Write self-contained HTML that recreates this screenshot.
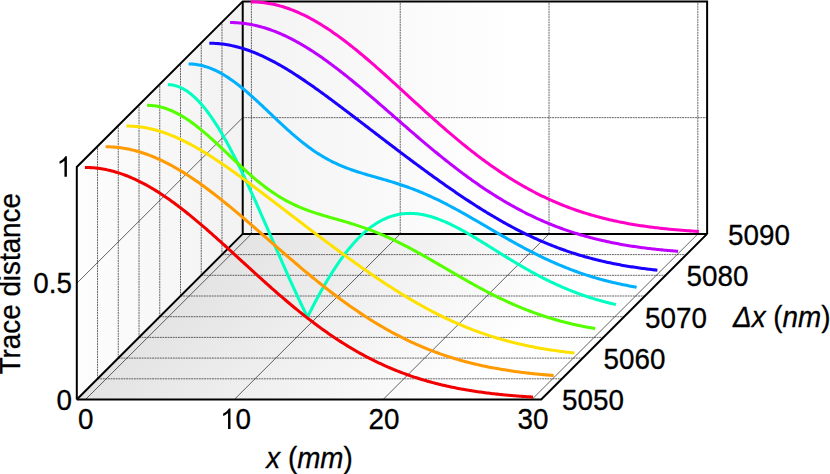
<!DOCTYPE html>
<html><head><meta charset="utf-8"><title>Trace distance</title>
<style>
html,body{margin:0;padding:0;background:#fff;}
body{width:830px;height:474px;position:relative;overflow:hidden;font-family:"Liberation Sans",sans-serif;}
</style></head><body>
<svg width="830" height="474" viewBox="0 0 830 474" style="position:absolute;left:0;top:0">
<defs>
<linearGradient id="gf" x1="0" y1="0" x2="1" y2="0"><stop offset="0" stop-color="#e3e3e3"/><stop offset="0.82" stop-color="#ffffff"/><stop offset="1" stop-color="#ffffff"/></linearGradient>
<linearGradient id="gb" gradientUnits="userSpaceOnUse" x1="242" y1="0" x2="520" y2="0"><stop offset="0" stop-color="#f3f3f3"/><stop offset="1" stop-color="#ffffff"/></linearGradient>
<linearGradient id="gl" x1="0" y1="0" x2="1" y2="0"><stop offset="0" stop-color="#fdfdfd"/><stop offset="1" stop-color="#f2f2f2"/></linearGradient>
</defs>
<polygon points="242.72,233.90 707.12,233.90 707.12,1.40 242.72,1.40" fill="url(#gb)"/>
<g transform="translate(76.80,399.50) skewX(-45.0553)"><rect x="0" y="-165.60" width="464.40" height="165.60" fill="url(#gf)"/></g>
<g transform="translate(76.80,399.50) skewY(-44.9447)"><rect x="0" y="-232.50" width="165.92" height="232.50" fill="url(#gl)"/></g>
<line x1="97.54" y1="378.80" x2="561.94" y2="378.80" stroke="#333" stroke-width="0.75" stroke-dasharray="1.9,0.7"/>
<line x1="97.54" y1="378.80" x2="97.54" y2="146.30" stroke="#333" stroke-width="0.75" stroke-dasharray="1.9,0.7"/>
<line x1="118.28" y1="358.10" x2="582.68" y2="358.10" stroke="#333" stroke-width="0.75" stroke-dasharray="1.9,0.7"/>
<line x1="118.28" y1="358.10" x2="118.28" y2="125.60" stroke="#333" stroke-width="0.75" stroke-dasharray="1.9,0.7"/>
<line x1="139.02" y1="337.40" x2="603.42" y2="337.40" stroke="#333" stroke-width="0.75" stroke-dasharray="1.9,0.7"/>
<line x1="139.02" y1="337.40" x2="139.02" y2="104.90" stroke="#333" stroke-width="0.75" stroke-dasharray="1.9,0.7"/>
<line x1="159.76" y1="316.70" x2="624.16" y2="316.70" stroke="#333" stroke-width="0.75" stroke-dasharray="1.9,0.7"/>
<line x1="159.76" y1="316.70" x2="159.76" y2="84.20" stroke="#333" stroke-width="0.75" stroke-dasharray="1.9,0.7"/>
<line x1="180.50" y1="296.00" x2="644.90" y2="296.00" stroke="#333" stroke-width="0.75" stroke-dasharray="1.9,0.7"/>
<line x1="180.50" y1="296.00" x2="180.50" y2="63.50" stroke="#333" stroke-width="0.75" stroke-dasharray="1.9,0.7"/>
<line x1="201.24" y1="275.30" x2="665.64" y2="275.30" stroke="#333" stroke-width="0.75" stroke-dasharray="1.9,0.7"/>
<line x1="201.24" y1="275.30" x2="201.24" y2="42.80" stroke="#333" stroke-width="0.75" stroke-dasharray="1.9,0.7"/>
<line x1="221.98" y1="254.60" x2="686.38" y2="254.60" stroke="#333" stroke-width="0.75" stroke-dasharray="1.9,0.7"/>
<line x1="221.98" y1="254.60" x2="221.98" y2="22.10" stroke="#333" stroke-width="0.75" stroke-dasharray="1.9,0.7"/>
<line x1="85.50" y1="399.50" x2="251.42" y2="233.90" stroke="#222" stroke-width="0.7"/>
<line x1="251.42" y1="233.90" x2="251.42" y2="1.40" stroke="#333" stroke-width="0.75" stroke-dasharray="1.9,0.7"/>
<line x1="234.30" y1="399.50" x2="400.22" y2="233.90" stroke="#222" stroke-width="0.7"/>
<line x1="400.22" y1="233.90" x2="400.22" y2="1.40" stroke="#333" stroke-width="0.75" stroke-dasharray="1.9,0.7"/>
<line x1="383.10" y1="399.50" x2="549.02" y2="233.90" stroke="#222" stroke-width="0.7"/>
<line x1="549.02" y1="233.90" x2="549.02" y2="1.40" stroke="#333" stroke-width="0.75" stroke-dasharray="1.9,0.7"/>
<line x1="531.90" y1="399.50" x2="697.82" y2="233.90" stroke="#222" stroke-width="0.7"/>
<line x1="697.82" y1="233.90" x2="697.82" y2="1.40" stroke="#333" stroke-width="0.75" stroke-dasharray="1.9,0.7"/>
<line x1="76.80" y1="283.25" x2="242.72" y2="117.65" stroke="#222" stroke-width="0.7"/>
<line x1="242.72" y1="117.65" x2="707.12" y2="117.65" stroke="#333" stroke-width="0.75" stroke-dasharray="1.9,0.7"/>
<polyline points="76.80,399.50 76.80,167.00 242.72,1.40 707.12,1.40 707.12,233.90" stroke="#000" stroke-width="2" fill="none" stroke-linejoin="miter"/>
<polyline points="76.80,399.50 541.20,399.50 707.12,233.90" stroke="#000" stroke-width="2" fill="none" stroke-linejoin="miter"/>
<polyline points="76.80,399.50 242.72,233.90 707.12,233.90" stroke="#000" stroke-width="2" fill="none" stroke-linejoin="miter"/>
<line x1="242.72" y1="233.90" x2="242.72" y2="1.40" stroke="#000" stroke-width="2" fill="none" stroke-linejoin="miter"/>
<path d="M250.82,1.85 L252.31,1.86 L253.81,1.89 L255.30,1.95 L256.79,2.02 L258.29,2.12 L259.78,2.24 L261.27,2.38 L262.77,2.54 L264.26,2.72 L265.75,2.93 L267.25,3.15 L268.74,3.40 L270.24,3.67 L271.73,3.96 L273.22,4.27 L274.72,4.60 L276.21,4.95 L277.70,5.33 L279.20,5.72 L280.69,6.14 L282.18,6.57 L283.68,7.03 L285.17,7.50 L286.66,8.00 L288.16,8.51 L289.65,9.05 L291.14,9.60 L292.64,10.18 L294.13,10.77 L295.62,11.38 L297.12,12.01 L298.61,12.67 L300.11,13.34 L301.60,14.02 L303.09,14.73 L304.59,15.45 L306.08,16.20 L307.57,16.96 L309.07,17.73 L310.56,18.53 L312.05,19.34 L313.55,20.17 L315.04,21.02 L316.53,21.88 L318.03,22.76 L319.52,23.65 L321.01,24.56 L322.51,25.49 L324.00,26.43 L325.50,27.39 L326.99,28.36 L328.48,29.35 L329.98,30.35 L331.47,31.36 L332.96,32.39 L334.46,33.43 L335.95,34.49 L337.44,35.55 L338.94,36.64 L340.43,37.73 L341.92,38.83 L343.42,39.95 L344.91,41.08 L346.40,42.22 L347.90,43.38 L349.39,44.54 L350.88,45.71 L352.38,46.90 L353.87,48.09 L355.37,49.30 L356.86,50.51 L358.35,51.73 L359.85,52.97 L361.34,54.21 L362.83,55.45 L364.33,56.71 L365.82,57.98 L367.31,59.25 L368.81,60.53 L370.30,61.82 L371.79,63.11 L373.29,64.41 L374.78,65.71 L376.27,67.03 L377.77,68.34 L379.26,69.67 L380.75,70.99 L382.25,72.32 L383.74,73.66 L385.24,75.00 L386.73,76.35 L388.22,77.69 L389.72,79.04 L391.21,80.40 L392.70,81.76 L394.20,83.11 L395.69,84.48 L397.18,85.84 L398.68,87.21 L400.17,88.57 L401.66,89.94 L403.16,91.31 L404.65,92.68 L406.14,94.05 L407.64,95.42 L409.13,96.79 L410.62,98.15 L412.12,99.52 L413.61,100.89 L415.11,102.26 L416.60,103.62 L418.09,104.99 L419.59,106.35 L421.08,107.71 L422.57,109.06 L424.07,110.42 L425.56,111.77 L427.05,113.12 L428.55,114.46 L430.04,115.81 L431.53,117.15 L433.03,118.48 L434.52,119.81 L436.01,121.14 L437.51,122.46 L439.00,123.78 L440.49,125.09 L441.99,126.40 L443.48,127.70 L444.98,129.00 L446.47,130.29 L447.96,131.57 L449.46,132.85 L450.95,134.13 L452.44,135.40 L453.94,136.66 L455.43,137.91 L456.92,139.16 L458.42,140.40 L459.91,141.63 L461.40,142.86 L462.90,144.08 L464.39,145.29 L465.88,146.50 L467.38,147.69 L468.87,148.88 L470.36,150.07 L471.86,151.24 L473.35,152.40 L474.85,153.56 L476.34,154.71 L477.83,155.85 L479.33,156.98 L480.82,158.11 L482.31,159.22 L483.81,160.32 L485.30,161.42 L486.79,162.51 L488.29,163.59 L489.78,164.66 L491.27,165.72 L492.77,166.77 L494.26,167.81 L495.75,168.84 L497.25,169.86 L498.74,170.88 L500.23,171.88 L501.73,172.88 L503.22,173.86 L504.72,174.84 L506.21,175.80 L507.70,176.76 L509.20,177.70 L510.69,178.64 L512.18,179.56 L513.68,180.48 L515.17,181.39 L516.66,182.28 L518.16,183.17 L519.65,184.05 L521.14,184.91 L522.64,185.77 L524.13,186.62 L525.62,187.45 L527.12,188.28 L528.61,189.10 L530.10,189.91 L531.60,190.70 L533.09,191.49 L534.58,192.27 L536.08,193.04 L537.57,193.80 L539.07,194.55 L540.56,195.28 L542.05,196.01 L543.55,196.73 L545.04,197.44 L546.53,198.14 L548.03,198.84 L549.52,199.52 L551.01,200.19 L552.51,200.85 L554.00,201.51 L555.49,202.15 L556.99,202.78 L558.48,203.41 L559.97,204.03 L561.47,204.63 L562.96,205.23 L564.45,205.82 L565.95,206.40 L567.44,206.97 L568.94,207.53 L570.43,208.09 L571.92,208.63 L573.42,209.17 L574.91,209.70 L576.40,210.22 L577.90,210.73 L579.39,211.23 L580.88,211.73 L582.38,212.21 L583.87,212.69 L585.36,213.16 L586.86,213.62 L588.35,214.08 L589.84,214.52 L591.34,214.96 L592.83,215.39 L594.32,215.82 L595.82,216.23 L597.31,216.64 L598.81,217.04 L600.30,217.44 L601.79,217.83 L603.29,218.21 L604.78,218.58 L606.27,218.95 L607.77,219.30 L609.26,219.66 L610.75,220.00 L612.25,220.34 L613.74,220.67 L615.23,221.00 L616.73,221.32 L618.22,221.63 L619.71,221.94 L621.21,222.24 L622.70,222.54 L624.19,222.83 L625.69,223.11 L627.18,223.39 L628.68,223.66 L630.17,223.93 L631.66,224.19 L633.16,224.44 L634.65,224.69 L636.14,224.94 L637.64,225.18 L639.13,225.41 L640.62,225.64 L642.12,225.87 L643.61,226.09 L645.10,226.30 L646.60,226.51 L648.09,226.72 L649.58,226.92 L651.08,227.12 L652.57,227.31 L654.06,227.50 L655.56,227.68 L657.05,227.86 L658.55,228.04 L660.04,228.21 L661.53,228.37 L663.03,228.54 L664.52,228.70 L666.01,228.85 L667.51,229.01 L669.00,229.15 L670.49,229.30 L671.99,229.44 L673.48,229.58 L674.97,229.71 L676.47,229.84 L677.96,229.97 L679.45,230.10 L680.95,230.22 L682.44,230.34 L683.93,230.45 L685.43,230.57 L686.92,230.68 L688.42,230.78 L689.91,230.89 L691.40,230.99 L692.90,231.09 L694.39,231.19 L695.88,231.28 L697.38,231.37 L698.87,231.46" fill="none" stroke="#ff00c8" stroke-width="3.05" stroke-linejoin="miter" stroke-linecap="butt"/>
<path d="M230.08,22.55 L231.57,22.56 L233.07,22.59 L234.56,22.64 L236.05,22.71 L237.55,22.80 L239.04,22.91 L240.53,23.04 L242.03,23.20 L243.52,23.37 L245.01,23.56 L246.51,23.77 L248.00,24.00 L249.50,24.25 L250.99,24.52 L252.48,24.81 L253.98,25.12 L255.47,25.45 L256.96,25.80 L258.46,26.16 L259.95,26.55 L261.44,26.96 L262.94,27.38 L264.43,27.83 L265.92,28.29 L267.42,28.77 L268.91,29.27 L270.40,29.79 L271.90,30.32 L273.39,30.88 L274.88,31.45 L276.38,32.04 L277.87,32.65 L279.37,33.27 L280.86,33.91 L282.35,34.57 L283.85,35.25 L285.34,35.94 L286.83,36.65 L288.33,37.38 L289.82,38.12 L291.31,38.88 L292.81,39.65 L294.30,40.44 L295.79,41.24 L297.29,42.06 L298.78,42.90 L300.27,43.75 L301.77,44.61 L303.26,45.49 L304.75,46.38 L306.25,47.29 L307.74,48.21 L309.24,49.14 L310.73,50.09 L312.22,51.05 L313.72,52.02 L315.21,53.01 L316.70,54.01 L318.20,55.02 L319.69,56.04 L321.18,57.07 L322.68,58.12 L324.17,59.17 L325.66,60.24 L327.16,61.32 L328.65,62.40 L330.14,63.50 L331.64,64.61 L333.13,65.72 L334.62,66.85 L336.12,67.99 L337.61,69.13 L339.11,70.28 L340.60,71.45 L342.09,72.62 L343.59,73.79 L345.08,74.98 L346.57,76.17 L348.07,77.37 L349.56,78.58 L351.05,79.79 L352.55,81.01 L354.04,82.24 L355.53,83.47 L357.03,84.71 L358.52,85.95 L360.01,87.20 L361.51,88.45 L363.00,89.71 L364.50,90.97 L365.99,92.24 L367.48,93.51 L368.98,94.79 L370.47,96.07 L371.96,97.35 L373.46,98.63 L374.95,99.92 L376.44,101.21 L377.94,102.50 L379.43,103.80 L380.92,105.09 L382.42,106.39 L383.91,107.69 L385.40,108.99 L386.90,110.29 L388.39,111.60 L389.88,112.90 L391.38,114.20 L392.87,115.51 L394.37,116.81 L395.86,118.12 L397.35,119.42 L398.85,120.72 L400.34,122.02 L401.83,123.33 L403.33,124.63 L404.82,125.92 L406.31,127.22 L407.81,128.52 L409.30,129.81 L410.79,131.10 L412.29,132.39 L413.78,133.67 L415.27,134.96 L416.77,136.24 L418.26,137.51 L419.75,138.79 L421.25,140.06 L422.74,141.32 L424.24,142.59 L425.73,143.85 L427.22,145.10 L428.72,146.35 L430.21,147.60 L431.70,148.84 L433.20,150.08 L434.69,151.31 L436.18,152.53 L437.68,153.76 L439.17,154.97 L440.66,156.18 L442.16,157.39 L443.65,158.59 L445.14,159.78 L446.64,160.97 L448.13,162.15 L449.62,163.33 L451.12,164.50 L452.61,165.66 L454.11,166.82 L455.60,167.97 L457.09,169.11 L458.59,170.25 L460.08,171.38 L461.57,172.50 L463.07,173.62 L464.56,174.72 L466.05,175.82 L467.55,176.92 L469.04,178.00 L470.53,179.08 L472.03,180.15 L473.52,181.21 L475.01,182.26 L476.51,183.31 L478.00,184.35 L479.49,185.38 L480.99,186.40 L482.48,187.41 L483.98,188.42 L485.47,189.42 L486.96,190.40 L488.46,191.38 L489.95,192.36 L491.44,193.32 L492.94,194.27 L494.43,195.22 L495.92,196.15 L497.42,197.08 L498.91,198.00 L500.40,198.91 L501.90,199.81 L503.39,200.71 L504.88,201.59 L506.38,202.47 L507.87,203.33 L509.36,204.19 L510.86,205.04 L512.35,205.87 L513.84,206.70 L515.34,207.53 L516.83,208.34 L518.33,209.14 L519.82,209.93 L521.31,210.72 L522.81,211.49 L524.30,212.26 L525.79,213.02 L527.29,213.77 L528.78,214.51 L530.27,215.24 L531.77,215.96 L533.26,216.67 L534.75,217.37 L536.25,218.07 L537.74,218.76 L539.23,219.43 L540.73,220.10 L542.22,220.76 L543.71,221.41 L545.21,222.05 L546.70,222.69 L548.20,223.31 L549.69,223.93 L551.18,224.53 L552.68,225.13 L554.17,225.72 L555.66,226.30 L557.16,226.88 L558.65,227.44 L560.14,228.00 L561.64,228.55 L563.13,229.09 L564.62,229.62 L566.12,230.14 L567.61,230.66 L569.10,231.16 L570.60,231.66 L572.09,232.16 L573.58,232.64 L575.08,233.12 L576.57,233.58 L578.07,234.05 L579.56,234.50 L581.05,234.94 L582.55,235.38 L584.04,235.81 L585.53,236.24 L587.03,236.65 L588.52,237.06 L590.01,237.47 L591.51,237.86 L593.00,238.25 L594.49,238.63 L595.99,239.00 L597.48,239.37 L598.97,239.73 L600.47,240.09 L601.96,240.44 L603.45,240.78 L604.95,241.11 L606.44,241.44 L607.94,241.76 L609.43,242.08 L610.92,242.39 L612.42,242.69 L613.91,242.99 L615.40,243.29 L616.90,243.57 L618.39,243.85 L619.88,244.13 L621.38,244.40 L622.87,244.66 L624.36,244.92 L625.86,245.18 L627.35,245.42 L628.84,245.67 L630.34,245.91 L631.83,246.14 L633.32,246.37 L634.82,246.59 L636.31,246.81 L637.81,247.02 L639.30,247.23 L640.79,247.44 L642.29,247.64 L643.78,247.83 L645.27,248.03 L646.77,248.21 L648.26,248.40 L649.75,248.58 L651.25,248.75 L652.74,248.92 L654.23,249.09 L655.73,249.25 L657.22,249.41 L658.71,249.57 L660.21,249.72 L661.70,249.87 L663.19,250.01 L664.69,250.15 L666.18,250.29 L667.68,250.42 L669.17,250.56 L670.66,250.68 L672.16,250.81 L673.65,250.93 L675.14,251.05 L676.64,251.17 L678.13,251.28" fill="none" stroke="#c000ff" stroke-width="3.05" stroke-linejoin="miter" stroke-linecap="butt"/>
<path d="M209.34,43.25 L210.83,43.26 L212.33,43.29 L213.82,43.35 L215.31,43.42 L216.81,43.52 L218.30,43.63 L219.79,43.77 L221.29,43.93 L222.78,44.11 L224.28,44.31 L225.77,44.53 L227.26,44.77 L228.76,45.04 L230.25,45.32 L231.74,45.62 L233.24,45.95 L234.73,46.29 L236.22,46.66 L237.72,47.04 L239.21,47.44 L240.70,47.87 L242.20,48.31 L243.69,48.77 L245.18,49.25 L246.68,49.74 L248.17,50.26 L249.66,50.80 L251.16,51.35 L252.65,51.92 L254.15,52.51 L255.64,53.11 L257.13,53.73 L258.63,54.37 L260.12,55.03 L261.61,55.70 L263.11,56.38 L264.60,57.09 L266.09,57.80 L267.59,58.54 L269.08,59.28 L270.57,60.05 L272.07,60.82 L273.56,61.61 L275.05,62.42 L276.55,63.23 L278.04,64.06 L279.53,64.91 L281.03,65.76 L282.52,66.63 L284.01,67.51 L285.51,68.40 L287.00,69.30 L288.50,70.21 L289.99,71.13 L291.48,72.07 L292.98,73.01 L294.47,73.96 L295.96,74.93 L297.46,75.90 L298.95,76.88 L300.44,77.87 L301.94,78.86 L303.43,79.87 L304.92,80.88 L306.42,81.90 L307.91,82.93 L309.40,83.96 L310.90,85.01 L312.39,86.05 L313.88,87.11 L315.38,88.17 L316.87,89.23 L318.37,90.30 L319.86,91.38 L321.35,92.46 L322.85,93.54 L324.34,94.63 L325.83,95.72 L327.33,96.82 L328.82,97.92 L330.31,99.03 L331.81,100.14 L333.30,101.25 L334.79,102.36 L336.29,103.48 L337.78,104.60 L339.27,105.72 L340.77,106.85 L342.26,107.97 L343.75,109.10 L345.25,110.24 L346.74,111.37 L348.24,112.50 L349.73,113.64 L351.22,114.78 L352.72,115.91 L354.21,117.05 L355.70,118.19 L357.20,119.33 L358.69,120.48 L360.18,121.62 L361.68,122.76 L363.17,123.90 L364.66,125.05 L366.16,126.19 L367.65,127.33 L369.14,128.48 L370.64,129.62 L372.13,130.76 L373.62,131.91 L375.12,133.05 L376.61,134.19 L378.11,135.33 L379.60,136.48 L381.09,137.62 L382.59,138.76 L384.08,139.90 L385.57,141.03 L387.07,142.17 L388.56,143.31 L390.05,144.44 L391.55,145.58 L393.04,146.71 L394.53,147.84 L396.03,148.97 L397.52,150.10 L399.01,151.23 L400.51,152.36 L402.00,153.48 L403.50,154.61 L404.99,155.73 L406.48,156.85 L407.98,157.97 L409.47,159.08 L410.96,160.20 L412.46,161.31 L413.95,162.42 L415.44,163.53 L416.94,164.64 L418.43,165.74 L419.92,166.84 L421.42,167.94 L422.91,169.04 L424.40,170.13 L425.90,171.22 L427.39,172.31 L428.88,173.40 L430.38,174.48 L431.87,175.56 L433.37,176.64 L434.86,177.71 L436.35,178.78 L437.85,179.85 L439.34,180.92 L440.83,181.98 L442.33,183.04 L443.82,184.09 L445.31,185.14 L446.81,186.19 L448.30,187.23 L449.79,188.27 L451.29,189.31 L452.78,190.34 L454.27,191.36 L455.77,192.39 L457.26,193.41 L458.75,194.42 L460.25,195.43 L461.74,196.43 L463.24,197.43 L464.73,198.43 L466.22,199.42 L467.72,200.40 L469.21,201.38 L470.70,202.36 L472.20,203.33 L473.69,204.29 L475.18,205.25 L476.68,206.20 L478.17,207.15 L479.66,208.09 L481.16,209.03 L482.65,209.96 L484.14,210.89 L485.64,211.80 L487.13,212.72 L488.62,213.62 L490.12,214.52 L491.61,215.42 L493.10,216.30 L494.60,217.18 L496.09,218.06 L497.59,218.92 L499.08,219.78 L500.57,220.64 L502.07,221.49 L503.56,222.33 L505.05,223.16 L506.55,223.98 L508.04,224.80 L509.53,225.61 L511.03,226.42 L512.52,227.22 L514.01,228.01 L515.51,228.79 L517.00,229.56 L518.49,230.33 L519.99,231.09 L521.48,231.84 L522.97,232.59 L524.47,233.33 L525.96,234.06 L527.46,234.78 L528.95,235.49 L530.44,236.20 L531.94,236.90 L533.43,237.59 L534.92,238.27 L536.42,238.95 L537.91,239.62 L539.40,240.28 L540.90,240.93 L542.39,241.57 L543.88,242.21 L545.38,242.84 L546.87,243.46 L548.36,244.07 L549.86,244.68 L551.35,245.28 L552.85,245.87 L554.34,246.45 L555.83,247.02 L557.33,247.59 L558.82,248.15 L560.31,248.70 L561.81,249.24 L563.30,249.78 L564.79,250.30 L566.29,250.82 L567.78,251.34 L569.27,251.84 L570.77,252.34 L572.26,252.83 L573.75,253.31 L575.25,253.79 L576.74,254.26 L578.23,254.72 L579.73,255.17 L581.22,255.62 L582.71,256.05 L584.21,256.49 L585.70,256.91 L587.20,257.33 L588.69,257.74 L590.18,258.14 L591.68,258.54 L593.17,258.93 L594.66,259.31 L596.16,259.69 L597.65,260.06 L599.14,260.42 L600.64,260.78 L602.13,261.13 L603.62,261.47 L605.12,261.81 L606.61,262.14 L608.10,262.47 L609.60,262.79 L611.09,263.10 L612.59,263.41 L614.08,263.71 L615.57,264.00 L617.07,264.29 L618.56,264.58 L620.05,264.85 L621.55,265.13 L623.04,265.39 L624.53,265.65 L626.03,265.91 L627.52,266.16 L629.01,266.41 L630.51,266.65 L632.00,266.88 L633.49,267.11 L634.99,267.34 L636.48,267.56 L637.97,267.78 L639.47,267.99 L640.96,268.19 L642.45,268.40 L643.95,268.59 L645.44,268.79 L646.94,268.98 L648.43,269.16 L649.92,269.34 L651.42,269.52 L652.91,269.69 L654.40,269.86 L655.90,270.02 L657.39,270.18" fill="none" stroke="#1a00ff" stroke-width="3.05" stroke-linejoin="miter" stroke-linecap="butt"/>
<path d="M188.60,63.95 L190.09,63.97 L191.59,64.03 L193.08,64.13 L194.57,64.28 L196.07,64.46 L197.56,64.69 L199.05,64.95 L200.55,65.25 L202.04,65.60 L203.53,65.98 L205.03,66.41 L206.52,66.87 L208.02,67.37 L209.51,67.91 L211.00,68.49 L212.50,69.10 L213.99,69.75 L215.48,70.44 L216.98,71.16 L218.47,71.92 L219.96,72.71 L221.46,73.54 L222.95,74.39 L224.44,75.28 L225.94,76.21 L227.43,77.16 L228.92,78.14 L230.42,79.15 L231.91,80.19 L233.41,81.26 L234.90,82.36 L236.39,83.48 L237.89,84.62 L239.38,85.79 L240.87,86.98 L242.37,88.19 L243.86,89.43 L245.35,90.68 L246.85,91.95 L248.34,93.24 L249.83,94.55 L251.33,95.87 L252.82,97.21 L254.31,98.56 L255.81,99.92 L257.30,101.29 L258.79,102.67 L260.29,104.07 L261.78,105.46 L263.27,106.87 L264.77,108.28 L266.26,109.70 L267.76,111.11 L269.25,112.53 L270.74,113.95 L272.24,115.37 L273.73,116.79 L275.22,118.21 L276.72,119.62 L278.21,121.03 L279.70,122.43 L281.20,123.82 L282.69,125.21 L284.18,126.58 L285.68,127.95 L287.17,129.31 L288.66,130.65 L290.16,131.98 L291.65,133.30 L293.14,134.60 L294.64,135.89 L296.13,137.16 L297.63,138.41 L299.12,139.65 L300.61,140.87 L302.11,142.07 L303.60,143.25 L305.09,144.41 L306.59,145.55 L308.08,146.66 L309.57,147.76 L311.07,148.83 L312.56,149.89 L314.05,150.92 L315.55,151.92 L317.04,152.91 L318.53,153.87 L320.03,154.81 L321.52,155.73 L323.01,156.62 L324.51,157.49 L326.00,158.34 L327.50,159.17 L328.99,159.97 L330.48,160.76 L331.98,161.52 L333.47,162.26 L334.96,162.98 L336.46,163.68 L337.95,164.36 L339.44,165.02 L340.94,165.66 L342.43,166.29 L343.92,166.90 L345.42,167.49 L346.91,168.07 L348.40,168.63 L349.90,169.18 L351.39,169.71 L352.88,170.23 L354.38,170.74 L355.87,171.24 L357.37,171.73 L358.86,172.20 L360.35,172.67 L361.85,173.13 L363.34,173.59 L364.83,174.04 L366.33,174.48 L367.82,174.92 L369.31,175.35 L370.81,175.78 L372.30,176.21 L373.79,176.63 L375.29,177.06 L376.78,177.48 L378.27,177.91 L379.77,178.33 L381.26,178.76 L382.75,179.19 L384.25,179.62 L385.74,180.05 L387.24,180.49 L388.73,180.93 L390.22,181.38 L391.72,181.84 L393.21,182.29 L394.70,182.76 L396.20,183.23 L397.69,183.71 L399.18,184.19 L400.68,184.69 L402.17,185.19 L403.66,185.70 L405.16,186.22 L406.65,186.74 L408.14,187.28 L409.64,187.82 L411.13,188.37 L412.62,188.94 L414.12,189.51 L415.61,190.09 L417.11,190.68 L418.60,191.28 L420.09,191.89 L421.59,192.51 L423.08,193.14 L424.57,193.78 L426.07,194.43 L427.56,195.09 L429.05,195.75 L430.55,196.43 L432.04,197.12 L433.53,197.81 L435.03,198.51 L436.52,199.23 L438.01,199.95 L439.51,200.68 L441.00,201.42 L442.50,202.16 L443.99,202.92 L445.48,203.68 L446.98,204.45 L448.47,205.23 L449.96,206.01 L451.46,206.80 L452.95,207.60 L454.44,208.41 L455.94,209.22 L457.43,210.03 L458.92,210.85 L460.42,211.68 L461.91,212.51 L463.40,213.35 L464.90,214.19 L466.39,215.04 L467.88,215.89 L469.38,216.74 L470.87,217.60 L472.36,218.45 L473.86,219.32 L475.35,220.18 L476.85,221.05 L478.34,221.92 L479.83,222.79 L481.33,223.66 L482.82,224.53 L484.31,225.40 L485.81,226.28 L487.30,227.15 L488.79,228.02 L490.29,228.90 L491.78,229.77 L493.27,230.64 L494.77,231.51 L496.26,232.38 L497.75,233.24 L499.25,234.11 L500.74,234.97 L502.23,235.83 L503.73,236.69 L505.22,237.54 L506.72,238.40 L508.21,239.24 L509.70,240.09 L511.20,240.93 L512.69,241.77 L514.18,242.60 L515.68,243.43 L517.17,244.25 L518.66,245.07 L520.16,245.88 L521.65,246.69 L523.14,247.49 L524.64,248.29 L526.13,249.08 L527.62,249.86 L529.12,250.64 L530.61,251.42 L532.11,252.18 L533.60,252.95 L535.09,253.70 L536.59,254.45 L538.08,255.19 L539.57,255.92 L541.07,256.65 L542.56,257.37 L544.05,258.08 L545.55,258.78 L547.04,259.48 L548.53,260.17 L550.03,260.85 L551.52,261.53 L553.01,262.20 L554.51,262.86 L556.00,263.51 L557.49,264.15 L558.99,264.79 L560.48,265.41 L561.97,266.03 L563.47,266.65 L564.96,267.25 L566.46,267.85 L567.95,268.43 L569.44,269.01 L570.94,269.59 L572.43,270.15 L573.92,270.71 L575.42,271.25 L576.91,271.79 L578.40,272.32 L579.90,272.85 L581.39,273.36 L582.88,273.87 L584.38,274.37 L585.87,274.86 L587.36,275.35 L588.86,275.82 L590.35,276.29 L591.85,276.75 L593.34,277.20 L594.83,277.65 L596.33,278.09 L597.82,278.51 L599.31,278.94 L600.81,279.35 L602.30,279.76 L603.79,280.16 L605.29,280.55 L606.78,280.94 L608.27,281.31 L609.77,281.68 L611.26,282.05 L612.75,282.41 L614.25,282.76 L615.74,283.10 L617.23,283.43 L618.73,283.76 L620.22,284.09 L621.71,284.40 L623.21,284.71 L624.70,285.02 L626.20,285.31 L627.69,285.61 L629.18,285.89 L630.68,286.17 L632.17,286.44 L633.66,286.71 L635.16,286.97 L636.65,287.23" fill="none" stroke="#00b0ff" stroke-width="3.05" stroke-linejoin="miter" stroke-linecap="butt"/>
<path d="M167.86,84.65 L169.35,84.69 L170.85,84.81 L172.34,85.01 L173.83,85.29 L175.33,85.65 L176.82,86.08 L178.31,86.60 L179.81,87.20 L181.30,87.87 L182.80,88.62 L184.29,89.45 L185.78,90.36 L187.28,91.34 L188.77,92.40 L190.26,93.53 L191.76,94.74 L193.25,96.02 L194.74,97.38 L196.24,98.81 L197.73,100.31 L199.22,101.88 L200.72,103.52 L202.21,105.23 L203.70,107.01 L205.20,108.85 L206.69,110.76 L208.18,112.74 L209.68,114.78 L211.17,116.88 L212.67,119.05 L214.16,121.28 L215.65,123.56 L217.15,125.90 L218.64,128.30 L220.13,130.76 L221.63,133.27 L223.12,135.83 L224.61,138.44 L226.11,141.10 L227.60,143.81 L229.09,146.57 L230.59,149.37 L232.08,152.22 L233.57,155.11 L235.07,158.04 L236.56,161.01 L238.05,164.02 L239.55,167.06 L241.04,170.14 L242.53,173.26 L244.03,176.40 L245.52,179.57 L247.02,182.77 L248.51,186.00 L250.00,189.26 L251.50,192.53 L252.99,195.83 L254.48,199.15 L255.98,202.49 L257.47,205.84 L258.96,209.21 L260.46,212.59 L261.95,215.99 L263.44,219.39 L264.94,222.80 L266.43,226.22 L267.92,229.65 L269.42,233.08 L270.91,236.51 L272.40,239.94 L273.90,243.37 L275.39,246.80 L276.89,250.22 L278.38,253.64 L279.87,257.05 L281.37,260.46 L282.86,263.85 L284.35,267.23 L285.85,270.60 L287.34,273.95 L288.83,277.29 L290.33,280.61 L291.82,283.91 L293.31,287.20 L294.81,290.46 L296.30,293.70 L297.79,296.91 L299.29,300.10 L300.78,303.27 L302.27,306.40 L303.77,309.51 L305.26,312.59 L306.76,315.64 L307.50,317.15 L308.25,315.65 L309.74,312.66 L311.24,309.71 L312.73,306.80 L314.22,303.92 L315.72,301.08 L317.21,298.27 L318.70,295.50 L320.20,292.78 L321.69,290.09 L323.18,287.44 L324.68,284.83 L326.17,282.27 L327.66,279.75 L329.16,277.27 L330.65,274.84 L332.14,272.45 L333.64,270.11 L335.13,267.81 L336.63,265.56 L338.12,263.35 L339.61,261.19 L341.11,259.08 L342.60,257.02 L344.09,255.00 L345.59,253.04 L347.08,251.12 L348.57,249.25 L350.07,247.42 L351.56,245.65 L353.05,243.93 L354.55,242.25 L356.04,240.63 L357.53,239.05 L359.03,237.53 L360.52,236.05 L362.01,234.62 L363.51,233.24 L365.00,231.92 L366.50,230.64 L367.99,229.40 L369.48,228.22 L370.98,227.09 L372.47,226.00 L373.96,224.96 L375.46,223.97 L376.95,223.03 L378.44,222.13 L379.94,221.28 L381.43,220.48 L382.92,219.72 L384.42,219.01 L385.91,218.34 L387.40,217.72 L388.90,217.14 L390.39,216.61 L391.88,216.11 L393.38,215.67 L394.87,215.26 L396.37,214.90 L397.86,214.57 L399.35,214.29 L400.85,214.05 L402.34,213.84 L403.83,213.68 L405.33,213.55 L406.82,213.46 L408.31,213.41 L409.81,213.39 L411.30,213.41 L412.79,213.47 L414.29,213.56 L415.78,213.68 L417.27,213.83 L418.77,214.02 L420.26,214.24 L421.75,214.49 L423.25,214.77 L424.74,215.08 L426.24,215.42 L427.73,215.78 L429.22,216.18 L430.72,216.59 L432.21,217.04 L433.70,217.51 L435.20,218.00 L436.69,218.52 L438.18,219.06 L439.68,219.63 L441.17,220.21 L442.66,220.82 L444.16,221.44 L445.65,222.09 L447.14,222.75 L448.64,223.44 L450.13,224.13 L451.62,224.85 L453.12,225.58 L454.61,226.33 L456.11,227.09 L457.60,227.87 L459.09,228.66 L460.59,229.46 L462.08,230.27 L463.57,231.10 L465.07,231.93 L466.56,232.78 L468.05,233.63 L469.55,234.50 L471.04,235.37 L472.53,236.25 L474.03,237.14 L475.52,238.03 L477.01,238.93 L478.51,239.83 L480.00,240.74 L481.49,241.66 L482.99,242.58 L484.48,243.50 L485.98,244.42 L487.47,245.35 L488.96,246.28 L490.46,247.21 L491.95,248.14 L493.44,249.08 L494.94,250.01 L496.43,250.94 L497.92,251.87 L499.42,252.80 L500.91,253.73 L502.40,254.66 L503.90,255.58 L505.39,256.50 L506.88,257.42 L508.38,258.34 L509.87,259.25 L511.36,260.16 L512.86,261.06 L514.35,261.96 L515.85,262.85 L517.34,263.74 L518.83,264.62 L520.33,265.50 L521.82,266.37 L523.31,267.24 L524.81,268.10 L526.30,268.95 L527.79,269.80 L529.29,270.64 L530.78,271.47 L532.27,272.30 L533.77,273.11 L535.26,273.92 L536.75,274.72 L538.25,275.52 L539.74,276.30 L541.24,277.08 L542.73,277.85 L544.22,278.61 L545.72,279.36 L547.21,280.11 L548.70,280.84 L550.20,281.57 L551.69,282.28 L553.18,282.99 L554.68,283.69 L556.17,284.38 L557.66,285.06 L559.16,285.73 L560.65,286.39 L562.14,287.05 L563.64,287.69 L565.13,288.32 L566.62,288.95 L568.12,289.56 L569.61,290.17 L571.11,290.77 L572.60,291.36 L574.09,291.94 L575.59,292.51 L577.08,293.07 L578.57,293.62 L580.07,294.16 L581.56,294.69 L583.05,295.22 L584.55,295.73 L586.04,296.24 L587.53,296.73 L589.03,297.22 L590.52,297.70 L592.01,298.17 L593.51,298.64 L595.00,299.09 L596.49,299.53 L597.99,299.97 L599.48,300.40 L600.98,300.82 L602.47,301.23 L603.96,301.64 L605.46,302.03 L606.95,302.42 L608.44,302.80 L609.94,303.17 L611.43,303.54 L612.92,303.89 L614.42,304.24 L615.91,304.58" fill="none" stroke="#00ffc0" stroke-width="3.05" stroke-linejoin="miter" stroke-linecap="butt"/>
<path d="M147.12,105.35 L148.61,105.37 L150.11,105.43 L151.60,105.53 L153.09,105.68 L154.59,105.86 L156.08,106.09 L157.57,106.35 L159.07,106.65 L160.56,107.00 L162.06,107.38 L163.55,107.81 L165.04,108.27 L166.54,108.77 L168.03,109.31 L169.52,109.89 L171.02,110.50 L172.51,111.15 L174.00,111.84 L175.50,112.56 L176.99,113.32 L178.48,114.11 L179.98,114.94 L181.47,115.79 L182.96,116.68 L184.46,117.61 L185.95,118.56 L187.44,119.54 L188.94,120.55 L190.43,121.59 L191.93,122.66 L193.42,123.76 L194.91,124.88 L196.41,126.02 L197.90,127.19 L199.39,128.38 L200.89,129.59 L202.38,130.83 L203.87,132.08 L205.37,133.35 L206.86,134.64 L208.35,135.95 L209.85,137.27 L211.34,138.61 L212.83,139.96 L214.33,141.32 L215.82,142.69 L217.31,144.07 L218.81,145.47 L220.30,146.86 L221.79,148.27 L223.29,149.68 L224.78,151.10 L226.28,152.51 L227.77,153.93 L229.26,155.35 L230.76,156.77 L232.25,158.19 L233.74,159.61 L235.24,161.02 L236.73,162.43 L238.22,163.83 L239.72,165.22 L241.21,166.61 L242.70,167.98 L244.20,169.35 L245.69,170.71 L247.18,172.05 L248.68,173.38 L250.17,174.70 L251.66,176.00 L253.16,177.29 L254.65,178.56 L256.15,179.81 L257.64,181.05 L259.13,182.27 L260.63,183.47 L262.12,184.65 L263.61,185.81 L265.11,186.95 L266.60,188.06 L268.09,189.16 L269.59,190.23 L271.08,191.29 L272.57,192.32 L274.07,193.32 L275.56,194.31 L277.05,195.27 L278.55,196.21 L280.04,197.13 L281.53,198.02 L283.03,198.89 L284.52,199.74 L286.02,200.57 L287.51,201.37 L289.00,202.16 L290.50,202.92 L291.99,203.66 L293.48,204.38 L294.98,205.08 L296.47,205.76 L297.96,206.42 L299.46,207.06 L300.95,207.69 L302.44,208.30 L303.94,208.89 L305.43,209.47 L306.92,210.03 L308.42,210.58 L309.91,211.11 L311.40,211.63 L312.90,212.14 L314.39,212.64 L315.89,213.13 L317.38,213.60 L318.87,214.07 L320.37,214.53 L321.86,214.99 L323.35,215.44 L324.85,215.88 L326.34,216.32 L327.83,216.75 L329.33,217.18 L330.82,217.61 L332.31,218.03 L333.81,218.46 L335.30,218.88 L336.79,219.31 L338.29,219.73 L339.78,220.16 L341.27,220.59 L342.77,221.02 L344.26,221.45 L345.76,221.89 L347.25,222.33 L348.74,222.78 L350.24,223.24 L351.73,223.69 L353.22,224.16 L354.72,224.63 L356.21,225.11 L357.70,225.59 L359.20,226.09 L360.69,226.59 L362.18,227.10 L363.68,227.62 L365.17,228.14 L366.66,228.68 L368.16,229.22 L369.65,229.77 L371.14,230.34 L372.64,230.91 L374.13,231.49 L375.63,232.08 L377.12,232.68 L378.61,233.29 L380.11,233.91 L381.60,234.54 L383.09,235.18 L384.59,235.83 L386.08,236.49 L387.57,237.15 L389.07,237.83 L390.56,238.52 L392.05,239.21 L393.55,239.91 L395.04,240.63 L396.53,241.35 L398.03,242.08 L399.52,242.82 L401.01,243.56 L402.51,244.32 L404.00,245.08 L405.50,245.85 L406.99,246.63 L408.48,247.41 L409.98,248.20 L411.47,249.00 L412.96,249.81 L414.46,250.62 L415.95,251.43 L417.44,252.25 L418.94,253.08 L420.43,253.91 L421.92,254.75 L423.42,255.59 L424.91,256.44 L426.40,257.29 L427.90,258.14 L429.39,259.00 L430.88,259.85 L432.38,260.72 L433.87,261.58 L435.37,262.45 L436.86,263.32 L438.35,264.19 L439.85,265.06 L441.34,265.93 L442.83,266.80 L444.33,267.68 L445.82,268.55 L447.31,269.42 L448.81,270.30 L450.30,271.17 L451.79,272.04 L453.29,272.91 L454.78,273.78 L456.27,274.64 L457.77,275.51 L459.26,276.37 L460.75,277.23 L462.25,278.09 L463.74,278.94 L465.24,279.80 L466.73,280.64 L468.22,281.49 L469.72,282.33 L471.21,283.17 L472.70,284.00 L474.20,284.83 L475.69,285.65 L477.18,286.47 L478.68,287.28 L480.17,288.09 L481.66,288.89 L483.16,289.69 L484.65,290.48 L486.14,291.26 L487.64,292.04 L489.13,292.82 L490.62,293.58 L492.12,294.35 L493.61,295.10 L495.11,295.85 L496.60,296.59 L498.09,297.32 L499.59,298.05 L501.08,298.77 L502.57,299.48 L504.07,300.18 L505.56,300.88 L507.05,301.57 L508.55,302.25 L510.04,302.93 L511.53,303.60 L513.03,304.26 L514.52,304.91 L516.01,305.55 L517.51,306.19 L519.00,306.81 L520.50,307.43 L521.99,308.05 L523.48,308.65 L524.98,309.25 L526.47,309.83 L527.96,310.41 L529.46,310.99 L530.95,311.55 L532.44,312.11 L533.94,312.65 L535.43,313.19 L536.92,313.72 L538.42,314.25 L539.91,314.76 L541.40,315.27 L542.90,315.77 L544.39,316.26 L545.88,316.75 L547.38,317.22 L548.87,317.69 L550.37,318.15 L551.86,318.60 L553.35,319.05 L554.85,319.49 L556.34,319.91 L557.83,320.34 L559.33,320.75 L560.82,321.16 L562.31,321.56 L563.81,321.95 L565.30,322.34 L566.79,322.71 L568.29,323.08 L569.78,323.45 L571.27,323.81 L572.77,324.16 L574.26,324.50 L575.75,324.83 L577.25,325.16 L578.74,325.49 L580.24,325.80 L581.73,326.11 L583.22,326.42 L584.72,326.71 L586.21,327.01 L587.70,327.29 L589.20,327.57 L590.69,327.84 L592.18,328.11 L593.68,328.37 L595.17,328.63" fill="none" stroke="#55ff00" stroke-width="3.05" stroke-linejoin="miter" stroke-linecap="butt"/>
<path d="M126.38,126.05 L127.87,126.06 L129.37,126.09 L130.86,126.15 L132.35,126.22 L133.85,126.32 L135.34,126.43 L136.83,126.57 L138.33,126.73 L139.82,126.91 L141.31,127.11 L142.81,127.33 L144.30,127.57 L145.80,127.84 L147.29,128.12 L148.78,128.42 L150.28,128.75 L151.77,129.09 L153.26,129.46 L154.76,129.84 L156.25,130.24 L157.74,130.67 L159.24,131.11 L160.73,131.57 L162.22,132.05 L163.72,132.54 L165.21,133.06 L166.70,133.60 L168.20,134.15 L169.69,134.72 L171.19,135.31 L172.68,135.91 L174.17,136.53 L175.67,137.17 L177.16,137.83 L178.65,138.50 L180.15,139.18 L181.64,139.89 L183.13,140.60 L184.63,141.34 L186.12,142.08 L187.61,142.85 L189.11,143.62 L190.60,144.41 L192.09,145.22 L193.59,146.03 L195.08,146.86 L196.57,147.71 L198.07,148.56 L199.56,149.43 L201.05,150.31 L202.55,151.20 L204.04,152.10 L205.54,153.01 L207.03,153.93 L208.52,154.87 L210.02,155.81 L211.51,156.76 L213.00,157.73 L214.50,158.70 L215.99,159.68 L217.48,160.67 L218.98,161.66 L220.47,162.67 L221.96,163.68 L223.46,164.70 L224.95,165.73 L226.44,166.76 L227.94,167.81 L229.43,168.85 L230.92,169.91 L232.42,170.97 L233.91,172.03 L235.41,173.10 L236.90,174.18 L238.39,175.26 L239.89,176.34 L241.38,177.43 L242.87,178.52 L244.37,179.62 L245.86,180.72 L247.35,181.83 L248.85,182.94 L250.34,184.05 L251.83,185.16 L253.33,186.28 L254.82,187.40 L256.31,188.52 L257.81,189.65 L259.30,190.77 L260.80,191.90 L262.29,193.04 L263.78,194.17 L265.28,195.30 L266.77,196.44 L268.26,197.58 L269.76,198.71 L271.25,199.85 L272.74,200.99 L274.24,202.13 L275.73,203.28 L277.22,204.42 L278.72,205.56 L280.21,206.70 L281.70,207.85 L283.20,208.99 L284.69,210.13 L286.18,211.28 L287.68,212.42 L289.17,213.56 L290.67,214.71 L292.16,215.85 L293.65,216.99 L295.15,218.13 L296.64,219.28 L298.13,220.42 L299.63,221.56 L301.12,222.70 L302.61,223.83 L304.11,224.97 L305.60,226.11 L307.09,227.24 L308.59,228.38 L310.08,229.51 L311.57,230.64 L313.07,231.77 L314.56,232.90 L316.05,234.03 L317.55,235.16 L319.04,236.28 L320.54,237.41 L322.03,238.53 L323.52,239.65 L325.02,240.77 L326.51,241.88 L328.00,243.00 L329.50,244.11 L330.99,245.22 L332.48,246.33 L333.98,247.44 L335.47,248.54 L336.96,249.64 L338.46,250.74 L339.95,251.84 L341.44,252.93 L342.94,254.02 L344.43,255.11 L345.92,256.20 L347.42,257.28 L348.91,258.36 L350.41,259.44 L351.90,260.51 L353.39,261.58 L354.89,262.65 L356.38,263.72 L357.87,264.78 L359.37,265.84 L360.86,266.89 L362.35,267.94 L363.85,268.99 L365.34,270.03 L366.83,271.07 L368.33,272.11 L369.82,273.14 L371.31,274.16 L372.81,275.19 L374.30,276.21 L375.79,277.22 L377.29,278.23 L378.78,279.23 L380.28,280.23 L381.77,281.23 L383.26,282.22 L384.76,283.20 L386.25,284.18 L387.74,285.16 L389.24,286.13 L390.73,287.09 L392.22,288.05 L393.72,289.00 L395.21,289.95 L396.70,290.89 L398.20,291.83 L399.69,292.76 L401.18,293.69 L402.68,294.60 L404.17,295.52 L405.66,296.42 L407.16,297.32 L408.65,298.22 L410.14,299.10 L411.64,299.98 L413.13,300.86 L414.63,301.72 L416.12,302.58 L417.61,303.44 L419.11,304.29 L420.60,305.13 L422.09,305.96 L423.59,306.78 L425.08,307.60 L426.57,308.41 L428.07,309.22 L429.56,310.02 L431.05,310.81 L432.55,311.59 L434.04,312.36 L435.53,313.13 L437.03,313.89 L438.52,314.64 L440.01,315.39 L441.51,316.13 L443.00,316.86 L444.50,317.58 L445.99,318.29 L447.48,319.00 L448.98,319.70 L450.47,320.39 L451.96,321.07 L453.46,321.75 L454.95,322.42 L456.44,323.08 L457.94,323.73 L459.43,324.37 L460.92,325.01 L462.42,325.64 L463.91,326.26 L465.40,326.87 L466.90,327.48 L468.39,328.08 L469.88,328.67 L471.38,329.25 L472.87,329.82 L474.37,330.39 L475.86,330.95 L477.35,331.50 L478.85,332.04 L480.34,332.58 L481.83,333.10 L483.33,333.62 L484.82,334.14 L486.31,334.64 L487.81,335.14 L489.30,335.63 L490.79,336.11 L492.29,336.59 L493.78,337.06 L495.27,337.52 L496.77,337.97 L498.26,338.42 L499.75,338.85 L501.25,339.29 L502.74,339.71 L504.24,340.13 L505.73,340.54 L507.22,340.94 L508.72,341.34 L510.21,341.73 L511.70,342.11 L513.20,342.49 L514.69,342.86 L516.18,343.22 L517.68,343.58 L519.17,343.93 L520.66,344.27 L522.16,344.61 L523.65,344.94 L525.14,345.27 L526.64,345.59 L528.13,345.90 L529.62,346.21 L531.12,346.51 L532.61,346.80 L534.11,347.09 L535.60,347.38 L537.09,347.65 L538.59,347.93 L540.08,348.19 L541.57,348.45 L543.07,348.71 L544.56,348.96 L546.05,349.21 L547.55,349.45 L549.04,349.68 L550.53,349.91 L552.03,350.14 L553.52,350.36 L555.01,350.58 L556.51,350.79 L558.00,350.99 L559.50,351.20 L560.99,351.39 L562.48,351.59 L563.98,351.78 L565.47,351.96 L566.96,352.14 L568.46,352.32 L569.95,352.49 L571.44,352.66 L572.94,352.82 L574.43,352.98" fill="none" stroke="#ffe100" stroke-width="3.05" stroke-linejoin="miter" stroke-linecap="butt"/>
<path d="M105.64,146.75 L107.13,146.76 L108.63,146.79 L110.12,146.84 L111.61,146.91 L113.11,147.00 L114.60,147.11 L116.09,147.24 L117.59,147.40 L119.08,147.57 L120.58,147.76 L122.07,147.97 L123.56,148.20 L125.06,148.45 L126.55,148.72 L128.04,149.01 L129.54,149.32 L131.03,149.65 L132.52,150.00 L134.02,150.36 L135.51,150.75 L137.00,151.16 L138.50,151.58 L139.99,152.03 L141.48,152.49 L142.98,152.97 L144.47,153.47 L145.96,153.99 L147.46,154.52 L148.95,155.08 L150.45,155.65 L151.94,156.24 L153.43,156.85 L154.93,157.47 L156.42,158.11 L157.91,158.77 L159.41,159.45 L160.90,160.14 L162.39,160.85 L163.89,161.58 L165.38,162.32 L166.87,163.08 L168.37,163.85 L169.86,164.64 L171.35,165.44 L172.85,166.26 L174.34,167.10 L175.83,167.95 L177.33,168.81 L178.82,169.69 L180.31,170.58 L181.81,171.49 L183.30,172.41 L184.80,173.34 L186.29,174.29 L187.78,175.25 L189.28,176.22 L190.77,177.21 L192.26,178.21 L193.76,179.22 L195.25,180.24 L196.74,181.27 L198.24,182.32 L199.73,183.37 L201.22,184.44 L202.72,185.52 L204.21,186.60 L205.70,187.70 L207.20,188.81 L208.69,189.92 L210.19,191.05 L211.68,192.19 L213.17,193.33 L214.67,194.48 L216.16,195.65 L217.65,196.82 L219.15,197.99 L220.64,199.18 L222.13,200.37 L223.63,201.57 L225.12,202.78 L226.61,203.99 L228.11,205.21 L229.60,206.44 L231.09,207.67 L232.59,208.91 L234.08,210.15 L235.57,211.40 L237.07,212.65 L238.56,213.91 L240.06,215.17 L241.55,216.44 L243.04,217.71 L244.54,218.99 L246.03,220.27 L247.52,221.55 L249.02,222.83 L250.51,224.12 L252.00,225.41 L253.50,226.70 L254.99,228.00 L256.48,229.29 L257.98,230.59 L259.47,231.89 L260.96,233.19 L262.46,234.49 L263.95,235.80 L265.44,237.10 L266.94,238.40 L268.43,239.71 L269.93,241.01 L271.42,242.32 L272.91,243.62 L274.41,244.92 L275.90,246.22 L277.39,247.53 L278.89,248.83 L280.38,250.12 L281.87,251.42 L283.37,252.72 L284.86,254.01 L286.35,255.30 L287.85,256.59 L289.34,257.87 L290.83,259.16 L292.33,260.44 L293.82,261.71 L295.31,262.99 L296.81,264.26 L298.30,265.52 L299.80,266.79 L301.29,268.05 L302.78,269.30 L304.28,270.55 L305.77,271.80 L307.26,273.04 L308.76,274.28 L310.25,275.51 L311.74,276.73 L313.24,277.96 L314.73,279.17 L316.22,280.38 L317.72,281.59 L319.21,282.79 L320.70,283.98 L322.20,285.17 L323.69,286.35 L325.18,287.53 L326.68,288.70 L328.17,289.86 L329.67,291.02 L331.16,292.17 L332.65,293.31 L334.15,294.45 L335.64,295.58 L337.13,296.70 L338.63,297.82 L340.12,298.92 L341.61,300.02 L343.11,301.12 L344.60,302.20 L346.09,303.28 L347.59,304.35 L349.08,305.41 L350.57,306.46 L352.07,307.51 L353.56,308.55 L355.05,309.58 L356.55,310.60 L358.04,311.61 L359.54,312.62 L361.03,313.62 L362.52,314.60 L364.02,315.58 L365.51,316.56 L367.00,317.52 L368.50,318.47 L369.99,319.42 L371.48,320.35 L372.98,321.28 L374.47,322.20 L375.96,323.11 L377.46,324.01 L378.95,324.91 L380.44,325.79 L381.94,326.67 L383.43,327.53 L384.92,328.39 L386.42,329.24 L387.91,330.07 L389.40,330.90 L390.90,331.73 L392.39,332.54 L393.89,333.34 L395.38,334.13 L396.87,334.92 L398.37,335.69 L399.86,336.46 L401.35,337.22 L402.85,337.97 L404.34,338.71 L405.83,339.44 L407.33,340.16 L408.82,340.87 L410.31,341.57 L411.81,342.27 L413.30,342.96 L414.79,343.63 L416.29,344.30 L417.78,344.96 L419.27,345.61 L420.77,346.25 L422.26,346.89 L423.76,347.51 L425.25,348.13 L426.74,348.73 L428.24,349.33 L429.73,349.92 L431.22,350.50 L432.72,351.08 L434.21,351.64 L435.70,352.20 L437.20,352.75 L438.69,353.29 L440.18,353.82 L441.68,354.34 L443.17,354.86 L444.66,355.36 L446.16,355.86 L447.65,356.36 L449.14,356.84 L450.64,357.32 L452.13,357.78 L453.63,358.25 L455.12,358.70 L456.61,359.14 L458.11,359.58 L459.60,360.01 L461.09,360.44 L462.59,360.85 L464.08,361.26 L465.57,361.67 L467.07,362.06 L468.56,362.45 L470.05,362.83 L471.55,363.20 L473.04,363.57 L474.53,363.93 L476.03,364.29 L477.52,364.64 L479.01,364.98 L480.51,365.31 L482.00,365.64 L483.50,365.96 L484.99,366.28 L486.48,366.59 L487.98,366.89 L489.47,367.19 L490.96,367.49 L492.46,367.77 L493.95,368.05 L495.44,368.33 L496.94,368.60 L498.43,368.86 L499.92,369.12 L501.42,369.38 L502.91,369.62 L504.40,369.87 L505.90,370.11 L507.39,370.34 L508.88,370.57 L510.38,370.79 L511.87,371.01 L513.37,371.22 L514.86,371.43 L516.35,371.64 L517.85,371.84 L519.34,372.03 L520.83,372.23 L522.33,372.41 L523.82,372.60 L525.31,372.78 L526.81,372.95 L528.30,373.12 L529.79,373.29 L531.29,373.45 L532.78,373.61 L534.27,373.77 L535.77,373.92 L537.26,374.07 L538.75,374.21 L540.25,374.35 L541.74,374.49 L543.24,374.62 L544.73,374.76 L546.22,374.88 L547.72,375.01 L549.21,375.13 L550.70,375.25 L552.20,375.37 L553.69,375.48" fill="none" stroke="#ff9a00" stroke-width="3.05" stroke-linejoin="miter" stroke-linecap="butt"/>
<path d="M84.90,167.45 L86.39,167.46 L87.89,167.49 L89.38,167.55 L90.87,167.62 L92.37,167.72 L93.86,167.84 L95.35,167.98 L96.85,168.14 L98.34,168.32 L99.84,168.53 L101.33,168.75 L102.82,169.00 L104.32,169.27 L105.81,169.56 L107.30,169.87 L108.80,170.20 L110.29,170.55 L111.78,170.93 L113.28,171.32 L114.77,171.74 L116.26,172.17 L117.76,172.63 L119.25,173.10 L120.74,173.60 L122.24,174.11 L123.73,174.65 L125.22,175.20 L126.72,175.78 L128.21,176.37 L129.71,176.98 L131.20,177.61 L132.69,178.27 L134.19,178.94 L135.68,179.62 L137.17,180.33 L138.67,181.05 L140.16,181.80 L141.65,182.56 L143.15,183.33 L144.64,184.13 L146.13,184.94 L147.63,185.77 L149.12,186.62 L150.61,187.48 L152.11,188.36 L153.60,189.25 L155.09,190.16 L156.59,191.09 L158.08,192.03 L159.57,192.99 L161.07,193.96 L162.56,194.95 L164.06,195.95 L165.55,196.96 L167.04,197.99 L168.54,199.03 L170.03,200.09 L171.52,201.15 L173.02,202.24 L174.51,203.33 L176.00,204.43 L177.50,205.55 L178.99,206.68 L180.48,207.82 L181.98,208.98 L183.47,210.14 L184.96,211.31 L186.46,212.50 L187.95,213.69 L189.44,214.90 L190.94,216.11 L192.43,217.33 L193.93,218.57 L195.42,219.81 L196.91,221.05 L198.41,222.31 L199.90,223.58 L201.39,224.85 L202.89,226.13 L204.38,227.42 L205.87,228.71 L207.37,230.01 L208.86,231.31 L210.35,232.63 L211.85,233.94 L213.34,235.27 L214.83,236.59 L216.33,237.92 L217.82,239.26 L219.31,240.60 L220.81,241.95 L222.30,243.29 L223.80,244.64 L225.29,246.00 L226.78,247.36 L228.28,248.71 L229.77,250.08 L231.26,251.44 L232.76,252.81 L234.25,254.17 L235.74,255.54 L237.24,256.91 L238.73,258.28 L240.22,259.65 L241.72,261.02 L243.21,262.39 L244.70,263.75 L246.20,265.12 L247.69,266.49 L249.19,267.86 L250.68,269.22 L252.17,270.59 L253.67,271.95 L255.16,273.31 L256.65,274.66 L258.15,276.02 L259.64,277.37 L261.13,278.72 L262.63,280.06 L264.12,281.41 L265.61,282.75 L267.11,284.08 L268.60,285.41 L270.09,286.74 L271.59,288.06 L273.08,289.38 L274.57,290.69 L276.07,292.00 L277.56,293.30 L279.06,294.60 L280.55,295.89 L282.04,297.17 L283.54,298.45 L285.03,299.73 L286.52,301.00 L288.02,302.26 L289.51,303.51 L291.00,304.76 L292.50,306.00 L293.99,307.23 L295.48,308.46 L296.98,309.68 L298.47,310.89 L299.96,312.10 L301.46,313.29 L302.95,314.48 L304.44,315.67 L305.94,316.84 L307.43,318.00 L308.93,319.16 L310.42,320.31 L311.91,321.45 L313.41,322.58 L314.90,323.71 L316.39,324.82 L317.89,325.92 L319.38,327.02 L320.87,328.11 L322.37,329.19 L323.86,330.26 L325.35,331.32 L326.85,332.37 L328.34,333.41 L329.83,334.44 L331.33,335.46 L332.82,336.48 L334.31,337.48 L335.81,338.48 L337.30,339.46 L338.80,340.44 L340.29,341.40 L341.78,342.36 L343.28,343.30 L344.77,344.24 L346.26,345.16 L347.76,346.08 L349.25,346.99 L350.74,347.88 L352.24,348.77 L353.73,349.65 L355.22,350.51 L356.72,351.37 L358.21,352.22 L359.70,353.05 L361.20,353.88 L362.69,354.70 L364.18,355.51 L365.68,356.30 L367.17,357.09 L368.66,357.87 L370.16,358.64 L371.65,359.40 L373.15,360.15 L374.64,360.88 L376.13,361.61 L377.63,362.33 L379.12,363.04 L380.61,363.74 L382.11,364.44 L383.60,365.12 L385.09,365.79 L386.59,366.45 L388.08,367.11 L389.57,367.75 L391.07,368.38 L392.56,369.01 L394.05,369.63 L395.55,370.23 L397.04,370.83 L398.53,371.42 L400.03,372.00 L401.52,372.57 L403.02,373.13 L404.51,373.69 L406.00,374.23 L407.50,374.77 L408.99,375.30 L410.48,375.82 L411.98,376.33 L413.47,376.83 L414.96,377.33 L416.46,377.81 L417.95,378.29 L419.44,378.76 L420.94,379.22 L422.43,379.68 L423.92,380.12 L425.42,380.56 L426.91,380.99 L428.40,381.42 L429.90,381.83 L431.39,382.24 L432.89,382.64 L434.38,383.04 L435.87,383.43 L437.37,383.81 L438.86,384.18 L440.35,384.55 L441.85,384.90 L443.34,385.26 L444.83,385.60 L446.33,385.94 L447.82,386.27 L449.31,386.60 L450.81,386.92 L452.30,387.23 L453.79,387.54 L455.29,387.84 L456.78,388.14 L458.27,388.43 L459.77,388.71 L461.26,388.99 L462.76,389.26 L464.25,389.53 L465.74,389.79 L467.24,390.04 L468.73,390.29 L470.22,390.54 L471.72,390.78 L473.21,391.01 L474.70,391.24 L476.20,391.47 L477.69,391.69 L479.18,391.90 L480.68,392.11 L482.17,392.32 L483.66,392.52 L485.16,392.72 L486.65,392.91 L488.14,393.10 L489.64,393.28 L491.13,393.46 L492.63,393.64 L494.12,393.81 L495.61,393.97 L497.11,394.14 L498.60,394.30 L500.09,394.45 L501.59,394.61 L503.08,394.75 L504.57,394.90 L506.07,395.04 L507.56,395.18 L509.05,395.31 L510.55,395.44 L512.04,395.57 L513.53,395.70 L515.03,395.82 L516.52,395.94 L518.01,396.05 L519.51,396.17 L521.00,396.28 L522.50,396.38 L523.99,396.49 L525.48,396.59 L526.98,396.69 L528.47,396.79 L529.96,396.88 L531.46,396.97 L532.95,397.06" fill="none" stroke="#f20000" stroke-width="3.05" stroke-linejoin="miter" stroke-linecap="butt"/>
</svg>
<svg width="830" height="474" viewBox="0 0 830 474" style="position:absolute;left:0;top:0;font-family:'Liberation Sans',sans-serif;font-size:27.8px" fill="#000" stroke="#000" stroke-width="0.3" stroke-linejoin="round">
<path transform="translate(56.54,176.80) scale(0.01357,-0.01398)" d="M763 0H583V1147Q518 1085 412.5 1023Q307 961 223 930V1104Q374 1175 487 1276Q600 1377 647 1472H763Z"/>
<text transform="translate(72.0,293.1) scale(1,1.03)" text-anchor="end" >0.5</text>
<text transform="translate(72.0,409.6) scale(1,1.03)" text-anchor="end" >0</text>
<text transform="translate(85.7,429.0) scale(1,1.03)" text-anchor="middle" >0</text>
<text transform="translate(384.0,429.0) scale(1,1.03)" text-anchor="middle" >20</text>
<text transform="translate(533.0,429.0) scale(1,1.03)" text-anchor="middle" >30</text>
<path transform="translate(220.14,429.00) scale(0.01357,-0.01398)" d="M763 0H583V1147Q518 1085 412.5 1023Q307 961 223 930V1104Q374 1175 487 1276Q600 1377 647 1472H763Z"/>
<text transform="translate(235.6,429.0) scale(1,1.03)" text-anchor="start" >0</text>
<text transform="translate(309.5,468.3) scale(1,1.03)" text-anchor="middle" ><tspan font-style="italic">x</tspan> (<tspan font-style="italic">mm</tspan>)</text>
<text transform="translate(562.0,410.0) scale(1,1.03)" text-anchor="start" >5050</text>
<text transform="translate(603.5,368.7) scale(1,1.03)" text-anchor="start" >5060</text>
<text transform="translate(645.0,327.7) scale(1,1.03)" text-anchor="start" >5070</text>
<text transform="translate(686.5,286.2) scale(1,1.03)" text-anchor="start" >5080</text>
<text transform="translate(728.0,245.2) scale(1,1.03)" text-anchor="start" >5090</text>
<text transform="translate(733.0,326.5) scale(1,1.03)" text-anchor="start" ><tspan font-style="italic">Δx</tspan> (<tspan font-style="italic">nm</tspan>)</text>
<text transform="translate(19.8,283.7) rotate(-90) scale(1,1.03)" text-anchor="middle">Trace distance</text>
</svg>
</body></html>
